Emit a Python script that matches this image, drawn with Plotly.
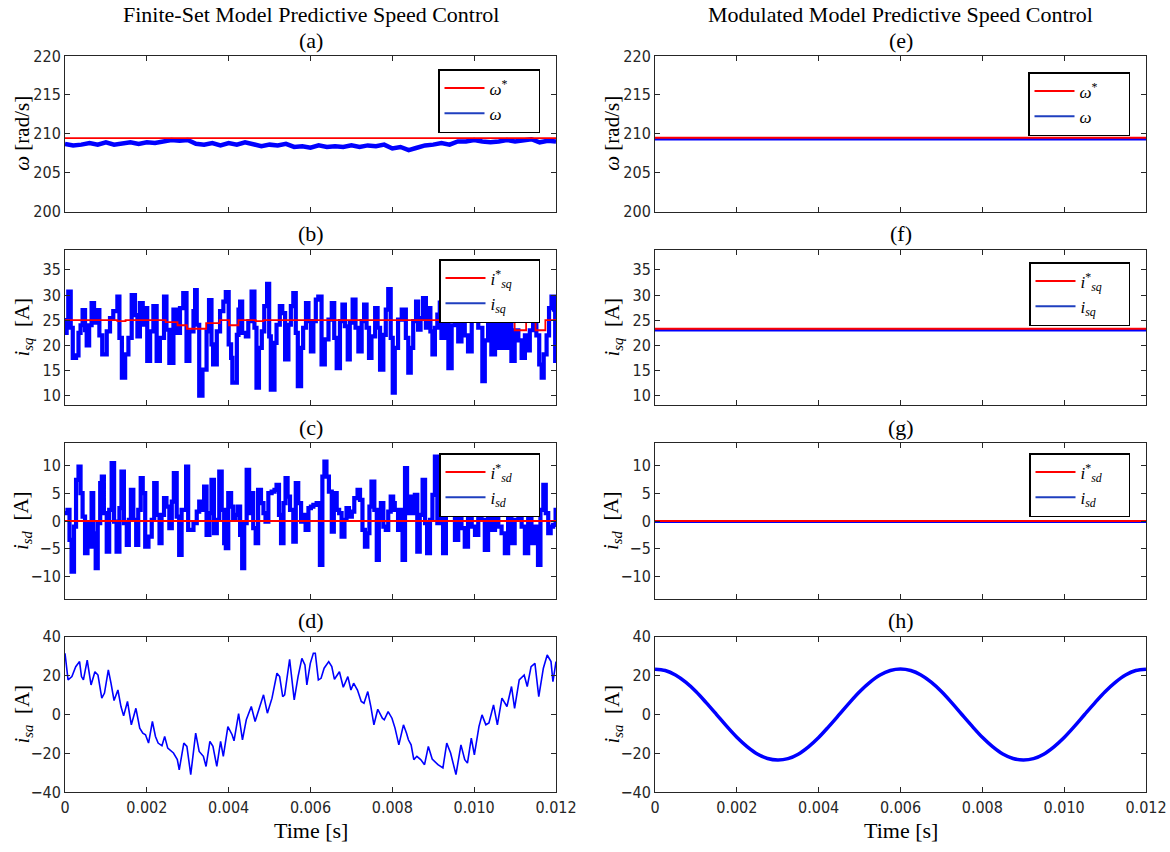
import numpy as np
import plotly.graph_objects as go

# ------------------------------------------------------------------ data
# time values are in milliseconds, converted to seconds for plotting
# (a) speed, finite-set MPC
t_w_left = [0.0, 0.2, 0.4, 0.6, 0.8, 1.0, 1.2, 1.4, 1.6, 1.8, 2.0, 2.2, 2.4, 2.6, 2.8, 3.0,
            3.2, 3.4, 3.6, 3.8, 4.0, 4.2, 4.4, 4.6, 4.8, 5.0, 5.2, 5.4, 5.6, 5.8, 6.0, 6.2,
            6.4, 6.6, 6.8, 7.0, 7.2, 7.4, 7.6, 7.8, 8.0, 8.2, 8.4, 8.6, 8.8, 9.0, 9.2, 9.4,
            9.6, 9.8, 10.0, 10.2, 10.4, 10.6, 10.8, 11.0, 11.2, 11.4, 11.6, 11.8, 12.0]
w_left = [208.7, 208.5, 208.6, 208.8, 208.6, 208.9, 208.6, 208.8, 208.9, 208.7, 208.9, 208.8,
          209.0, 209.2, 209.1, 209.2, 208.7, 208.6, 208.8, 208.5, 208.8, 208.6, 208.9, 208.7,
          208.4, 208.6, 208.5, 208.7, 208.3, 208.4, 208.2, 208.5, 208.3, 208.4, 208.3, 208.5,
          208.3, 208.5, 208.4, 208.6, 208.1, 208.3, 207.9, 208.2, 208.5, 208.6, 208.8, 208.6,
          209.0, 209.0, 209.2, 209.0, 208.9, 209.0, 209.2, 209.0, 209.1, 209.3, 208.9, 209.1,
          209.0]
w_ref_left = 209.45

# (b) q-axis current, finite-set MPC
t_isq_left = [0.00, 0.04, 0.08, 0.14, 0.19, 0.27, 0.33, 0.38, 0.43, 0.49, 0.53, 0.59, 0.65, 0.71,
              0.77, 0.84, 0.91, 1.02, 1.10, 1.18, 1.28, 1.33, 1.39, 1.47, 1.55, 1.63, 1.71, 1.77,
              1.83, 1.90, 1.96, 2.01, 2.08, 2.16, 2.24, 2.32, 2.42, 2.48, 2.55, 2.65, 2.73, 2.81,
              2.89, 2.97, 3.04, 3.14, 3.18, 3.22, 3.28, 3.36, 3.46, 3.52, 3.58, 3.62, 3.71, 3.79,
              3.87, 3.93, 4.00, 4.06, 4.09, 4.20, 4.24, 4.28, 4.33, 4.42, 4.48, 4.56, 4.63, 4.68,
              4.74, 4.81, 4.87, 4.94, 4.99, 5.03, 5.12, 5.17, 5.25, 5.31, 5.38, 5.46, 5.52, 5.58,
              5.64, 5.69, 5.77, 5.82, 5.89, 5.95, 6.01, 6.07, 6.13, 6.19, 6.27, 6.35, 6.44, 6.52,
              6.58, 6.64, 6.72, 6.78, 6.84, 6.91, 6.96, 7.03, 7.10, 7.17, 7.25, 7.31, 7.37, 7.43,
              7.49, 7.58, 7.64, 7.70, 7.78, 7.84, 7.90, 7.96, 8.01, 8.06, 8.14, 8.23, 8.33, 8.39,
              8.45, 8.51, 8.58, 8.63, 8.69, 8.75, 8.82, 8.88, 8.93, 8.98, 9.04, 9.10, 9.16, 9.20,
              9.28, 9.37, 9.45, 9.53, 9.61, 9.69, 9.77, 9.85, 9.94, 10.02, 10.10, 10.20, 10.26,
              10.34, 10.42, 10.51, 10.59, 10.67, 10.75, 10.83, 10.91, 10.99, 11.08, 11.16, 11.24,
              11.30, 11.36, 11.44, 11.52, 11.59, 11.65, 11.70, 11.77, 11.83, 11.89, 11.95, 11.98,
              12.00]
isq_left = [22.5, 25.0, 30.7, 23.5, 17.5, 18.0, 22.5, 24.0, 27.0, 23.0, 20.0, 24.0, 28.4, 24.5,
            27.0, 22.0, 18.2, 22.8, 25.4, 26.8, 29.7, 21.5, 13.6, 18.2, 21.5, 30.0, 26.0, 21.8,
            28.4, 24.1, 27.4, 16.9, 22.8, 27.8, 16.9, 21.5, 29.7, 23.1, 16.5, 27.1, 22.5, 27.4,
            30.4, 16.9, 22.8, 26.8, 31.0, 24.1, 10.0, 15.2, 22.8, 29.0, 20.2, 16.2, 22.8, 26.8,
            28.7, 30.6, 20.2, 17.5, 12.6, 22.1, 27.1, 28.7, 22.5, 21.8, 24.8, 30.7, 23.5, 11.6,
            19.5, 22.8, 27.8, 32.2, 21.8, 11.2, 20.5, 24.1, 27.8, 26.4, 17.2, 24.1, 27.8, 30.4,
            22.5, 11.9, 19.5, 23.5, 28.4, 24.8, 18.8, 24.8, 29.1, 29.7, 16.2, 21.2, 25.1, 28.4,
            21.5, 15.5, 24.8, 28.1, 23.8, 17.2, 24.5, 29.1, 23.5, 18.8, 24.8, 28.1, 23.5, 17.5,
            21.8, 27.4, 23.5, 15.2, 22.1, 27.1, 31.2, 21.5, 10.6, 19.5, 25.1, 27.1, 21.5, 14.6,
            19.5, 24.8, 28.7, 23.1, 25.4, 29.4, 23.5, 27.4, 22.8, 18.2, 23.5, 26.1, 28.5, 21.5,
            27.0, 15.5, 24.0, 28.0, 20.8, 27.0, 22.0, 18.8, 26.0, 28.0, 23.5, 12.9, 21.0, 27.0,
            18.2, 25.0, 19.5, 27.0, 19.5, 26.0, 16.9, 23.0, 21.0, 17.5, 22.0, 19.0, 23.0, 27.0,
            22.0, 16.2, 13.6, 18.2, 22.0, 27.4, 29.7, 27.1, 16.9, 21.0]
t_isq_ref_left = [0.0, 1.28, 1.48, 2.46, 2.75, 2.98, 3.45, 3.78, 4.01, 4.24, 4.66, 4.85, 10.47,
                  10.99, 11.27, 11.50, 11.74, 12.0]
isq_ref_left = [25.0, 24.8, 25.0, 24.6, 24.0, 23.3, 24.4, 25.0, 24.0, 25.0, 24.8, 25.0, 24.8,
                23.0, 25.0, 23.0, 25.0, 25.0]

# (c) d-axis current, finite-set MPC
t_isd_left = [0.00, 0.06, 0.11, 0.16, 0.22, 0.27, 0.33, 0.38, 0.43, 0.49, 0.55, 0.59, 0.65, 0.69,
              0.75, 0.80, 0.86, 0.90, 0.95, 1.02, 1.08, 1.14, 1.20, 1.26, 1.33, 1.38, 1.44, 1.51,
              1.56, 1.61, 1.67, 1.74, 1.79, 1.85, 1.90, 1.96, 2.04, 2.12, 2.18, 2.24, 2.31, 2.36,
              2.42, 2.48, 2.55, 2.61, 2.66, 2.73, 2.79, 2.85, 2.96, 3.01, 3.07, 3.14, 3.22, 3.28,
              3.34, 3.40, 3.46, 3.53, 3.58, 3.64, 3.71, 3.77, 3.83, 3.89, 3.93, 3.99, 4.06, 4.11,
              4.17, 4.22, 4.28, 4.33, 4.38, 4.44, 4.50, 4.55, 4.60, 4.66, 4.72, 4.79, 4.85, 4.90,
              4.97, 5.05, 5.12, 5.17, 5.23, 5.28, 5.34, 5.39, 5.44, 5.50, 5.58, 5.64, 5.70, 5.77,
              5.82, 5.88, 5.95, 6.01, 6.07, 6.15, 6.23, 6.29, 6.34, 6.39, 6.45, 6.52, 6.57, 6.64,
              6.70, 6.76, 6.83, 6.88, 6.94, 7.01, 7.07, 7.15, 7.21, 7.27, 7.33, 7.39, 7.44, 7.49,
              7.56, 7.62, 7.67, 7.72, 7.78, 7.84, 7.90, 7.96, 8.02, 8.06, 8.14, 8.20, 8.25, 8.31,
              8.36, 8.43, 8.49, 8.55, 8.61, 8.67, 8.74, 8.80, 8.85, 8.92, 8.98, 9.04, 9.10, 9.16,
              9.24, 9.31, 9.37, 9.45, 9.53, 9.61, 9.69, 9.77, 9.85, 9.94, 10.02, 10.10, 10.18,
              10.26, 10.34, 10.42, 10.51, 10.59, 10.67, 10.75, 10.83, 10.91, 10.99, 11.08, 11.16,
              11.24, 11.32, 11.40, 11.48, 11.56, 11.62, 11.69, 11.75, 11.81, 11.87, 11.93, 11.99,
              12.00]
isd_left = [1.4, 2.0, -3.4, -9.1, -1.0, 7.4, 9.8, 5.0, 0.8, -5.8, -0.4, -4.6, 5.0, -2.2, -8.5,
            -0.4, 6.8, 8.0, 1.4, -5.5, 2.0, 10.4, -0.1, -5.5, 2.3, 8.9, -0.4, -4.3, 0.2, 5.6, 0.2,
            -4.3, 2.0, 7.7, 5.0, -4.6, -2.8, 0.2, 6.8, 1.1, -4.0, 1.1, 4.1, 2.6, -1.3, 3.5, 8.6,
            0.8, -6.1, 2.0, 9.8, -1.6, -1.6, -0.4, 1.7, 3.5, 2.0, 6.2, -2.5, 1.4, 7.4, -2.2, 0.2,
            8.9, 2.0, -4.0, -4.9, 5.0, 2.6, 0.2, 1.1, 2.6, -2.5, -8.5, -0.4, 9.2, 1.4, 5.0, -1.3,
            -4.0, 5.6, 3.2, 1.4, -0.1, 5.0, 5.3, 5.6, 6.5, 1.1, -4.0, 3.2, 7.7, 4.4, 2.0, -3.7,
            6.8, 3.2, -0.1, 1.1, -1.6, 2.3, 2.6, 2.9, 3.2, -7.9, 8.0, 10.7, 8.0, 5.3, -1.9, 5.0,
            2.0, 1.4, -2.8, 0.2, 2.3, 0.8, 1.7, 4.1, 5.6, 3.8, -1.6, -4.6, -2.2, 2.6, 7.1, 2.0,
            -7.0, 0.5, 3.2, -1.0, -1.6, 1.7, 4.4, 3.2, 2.0, -1.6, 2.0, -7.0, 9.5, 1.4, 4.4, 1.4,
            4.7, -5.5, 1.1, 7.4, -0.4, -5.8, 0.2, 4.7, 11.6, -0.4, 6.0, -5.8, 11.6, 1.4, 7.0, -3.4,
            6.0, -1.3, -4.6, 5.0, -1.0, -2.5, 6.0, 0.2, -5.2, 7.0, -1.6, 5.0, -1.0, -2.2, -5.8,
            6.0, -4.0, 0.2, 11.6, -1.0, -5.8, 5.0, -4.0, -1.0, -7.9, 2.0, 6.5, 1.4, -2.2, -1.0,
            -0.7, 2.0, 2.0]
isd_ref_left = 0.0

# (d) phase-a current, finite-set MPC
t_isa_left = [0.000, 0.075, 0.169, 0.262, 0.356, 0.403, 0.450, 0.543, 0.637, 0.731, 0.806, 0.899,
              0.965, 1.059, 1.124, 1.199, 1.293, 1.368, 1.433, 1.527, 1.621, 1.733, 1.827, 1.902,
              1.967, 2.042, 2.136, 2.211, 2.276, 2.370, 2.436, 2.511, 2.651, 2.745, 2.792, 2.904,
              2.979, 3.073, 3.194, 3.279, 3.382, 3.447, 3.541, 3.616, 3.710, 3.803, 3.869, 3.981,
              4.084, 4.131, 4.243, 4.337, 4.431, 4.553, 4.646, 4.759, 4.852, 4.946, 5.059, 5.180,
              5.246, 5.321, 5.368, 5.490, 5.602, 5.696, 5.789, 5.864, 5.911, 5.995, 6.070, 6.117,
              6.192, 6.258, 6.333, 6.445, 6.520, 6.585, 6.707, 6.801, 6.913, 6.988, 7.054, 7.148,
              7.241, 7.307, 7.400, 7.475, 7.550, 7.644, 7.756, 7.803, 7.897, 7.991, 8.066, 8.159,
              8.272, 8.347, 8.393, 8.459, 8.525, 8.600, 8.693, 8.787, 8.880, 8.974, 9.115, 9.236,
              9.330, 9.424, 9.555, 9.677, 9.770, 9.836, 9.930, 10.005, 10.117, 10.192, 10.286,
              10.361, 10.473, 10.567, 10.679, 10.801, 10.913, 10.988, 11.101, 11.222, 11.297,
              11.391, 11.485, 11.579, 11.691, 11.785, 11.878, 11.925, 12.000]
isa_left = [31.5, 17.8, 19.5, 24.6, 27.2, 19.5, 17.8, 28.0, 15.2, 22.0, 20.3, 8.4, 11.0, 22.9,
            16.1, 7.2, 12.6, 4.1, -0.7, 6.7, -5.3, 3.2, -7.0, -9.6, -10.4, -14.7, -3.6, -11.3,
            -14.7, -16.1, -11.3, -17.3, -19.8, -23.2, -28.4, -14.7, -16.4, -30.9, -9.6, -19.0,
            -21.5, -26.7, -13.8, -16.4, -26.7, -13.8, -21.5, -6.2, -10.4, -13.5, 0.5, -13.0, -2.7,
            4.1, -3.6, 4.1, 10.1, 0.7, 8.4, 21.2, 19.5, 9.2, 10.1, 28.4, 7.5, 19.5, 28.9, 25.5,
            15.2, 26.3, 31.5, 31.5, 17.8, 18.6, 23.8, 27.2, 24.6, 18.1, 22.0, 14.0, 19.5, 12.6,
            16.1, 12.6, 6.7, 5.8, 11.8, 4.1, -5.3, 2.7, -1.9, -2.7, 1.5, -1.9, -7.0, -15.6, -5.3,
            -9.6, -13.0, -15.6, -23.2, -21.5, -23.2, -25.8, -16.4, -22.9, -25.8, -27.5, -14.7,
            -19.8, -30.9, -15.6, -23.2, -25.0, -12.1, -20.7, -6.2, -0.2, -5.3, -4.4, 4.9, -5.3,
            8.4, 4.1, 14.4, 3.2, 17.8, 20.3, 14.4, 24.6, 26.3, 9.2, 23.8, 30.6, 27.2, 16.9, 27.2]

# right column: modulated MPC
t_flat = [0.0, 12.0]
w_ref_right = 209.5
w_right = 209.3
isq_ref_right = 23.3
isq_right = 23.0
isd_ref_right = 0.0
isd_right = -0.15
t_isa_right = [0.0, 0.25, 0.5, 0.75, 1.0, 1.25, 1.5, 1.75, 2.0, 2.25, 2.5, 2.75, 3.0, 3.25, 3.5,
               3.75, 4.0, 4.25, 4.5, 4.75, 5.0, 5.25, 5.5, 5.75, 6.0, 6.25, 6.5, 6.75, 7.0, 7.25,
               7.5, 7.75, 8.0, 8.25, 8.5, 8.75, 9.0, 9.25, 9.5, 9.75, 10.0, 10.25, 10.5, 10.75,
               11.0, 11.25, 11.5, 11.75, 12.0]
isa_right = [23.3, 22.6, 20.3, 16.6, 11.8, 6.1, 0.1, -6.0, -11.7, -16.5, -20.3, -22.6, -23.4,
             -22.7, -20.4, -16.6, -11.8, -6.1, -0.1, 6.0, 11.7, 16.5, 20.3, 22.6, 23.4, 22.6, 20.3,
             16.6, 11.8, 6.1, 0.0, -6.0, -11.7, -16.5, -20.3, -22.6, -23.4, -22.7, -20.4, -16.6,
             -11.8, -6.1, 0.0, 6.0, 11.7, 16.5, 20.3, 22.6, 23.3]

x_ticks = [0, 0.002, 0.004, 0.006, 0.008, 0.010, 0.012]
x_ticktext = ["0", "0.002", "0.004", "0.006", "0.008", "0.010", "0.012"]
y_ticks_w = [200, 205, 210, 215, 220]
y_ticks_isq = [10, 15, 20, 25, 30, 35]
y_ticks_isd = [-10, -5, 0, 5, 10]
y_ticks_isa = [-40, -20, 0, 20, 40]

# ------------------------------------------------------------------ style
RED = "#ff0000"
BLUE = "#0000ff"
AX = "#262626"
SERIF = "Liberation Serif, Times New Roman, serif"
SANS = "Liberation Sans Narrow, DejaVu Sans Condensed, Arial Narrow, sans-serif"
W, H = 1170, 852
NB = "&nbsp;"


def s(t_ms):
    return np.asarray(t_ms, dtype=float) / 1000.0


def py(px_from_top):
    return 1 - px_from_top / H


def pxx(px):
    return px / W


x_left = [pxx(65), pxx(556)]
x_right = [pxx(655), pxx(1146)]
rows_px = [(56, 211.5), (249.7, 405.3), (443.2, 598.8), (636.7, 792.3)]
y_doms = [[py(b), py(t)] for (t, b) in rows_px]
y_ranges = [[200, 220], [8.1, 39], [-14, 14], [-40, 40]]
y_tick_sets = [y_ticks_w, y_ticks_isq, y_ticks_isd, y_ticks_isa]

fig = go.Figure()
layout = dict(width=W, height=H, margin=dict(l=0, r=0, t=0, b=0, autoexpand=False),
              paper_bgcolor="white", plot_bgcolor="white", showlegend=True)

for col in range(2):
    for row in range(4):
        k = col * 4 + row + 1
        xname = "xaxis" if k == 1 else f"xaxis{k}"
        yname = "yaxis" if k == 1 else f"yaxis{k}"
        bottom = row == 3
        layout[xname] = dict(domain=x_left if col == 0 else x_right, anchor=f"y{k}" if k > 1 else "y",
                             range=[0, 0.012], tickvals=x_ticks, ticktext=x_ticktext,
                             showticklabels=bottom, ticks="inside", ticklen=5, tickcolor=AX,
                             showline=True, linecolor=AX, linewidth=1, mirror="ticks",
                             showgrid=False, zeroline=False, automargin=False,
                             tickfont=dict(family=SANS, size=16, color=AX))
        layout[yname] = dict(domain=y_doms[row], anchor=f"x{k}" if k > 1 else "x",
                             range=y_ranges[row], tickvals=y_tick_sets[row],
                             ticks="inside", ticklen=5, tickcolor=AX,
                             showline=True, linecolor=AX, linewidth=1, mirror="ticks",
                             showgrid=False, zeroline=False, automargin=False,
                             tickfont=dict(family=SANS, size=16, color=AX))


def ax(k):
    return ("x" if k == 1 else f"x{k}"), ("y" if k == 1 else f"y{k}")


def add(k, x, y, color, width, shape="linear"):
    xa, ya = ax(k)
    fig.add_trace(go.Scatter(x=x, y=y, mode="lines", xaxis=xa, yaxis=ya, showlegend=False,
                             line=dict(color=color, width=width, shape=shape), hoverinfo="skip"))


def add_legend(k, legend_name, names):
    xa, ya = ax(k)
    for name, color in zip(names, [RED, "#1f3fbf"]):
        fig.add_trace(go.Scatter(x=[None], y=[None], mode="lines", xaxis=xa, yaxis=ya,
                                 name=name, legend=legend_name,
                                 line=dict(color=color, width=2)))


# left column
add(1, s(t_w_left), w_left, BLUE, 4.5)
add(1, s(t_flat), [w_ref_left] * len(t_flat), RED, 1.8)
add(2, s(t_isq_left), isq_left, BLUE, 4.2, "hv")
add(2, s(t_isq_ref_left), isq_ref_left, RED, 1.8, "hv")
add(3, s(t_isd_left), isd_left, BLUE, 4.2, "hv")
add(3, s(t_flat), [isd_ref_left] * len(t_flat), RED, 1.8)
add(4, s(t_isa_left), isa_left, BLUE, 1.6)
# right column
add(5, s(t_flat), [w_right] * len(t_flat), BLUE, 2.5)
add(5, s(t_flat), [w_ref_right] * len(t_flat), RED, 2.0)
add(6, s(t_flat), [isq_right] * len(t_flat), BLUE, 2.5)
add(6, s(t_flat), [isq_ref_right] * len(t_flat), RED, 2.0)
add(7, s(t_flat), [isd_right] * len(t_flat), BLUE, 2.5)
add(7, s(t_flat), [isd_ref_right] * len(t_flat), RED, 2.0)
add(8, s(t_isa_right), isa_right, BLUE, 3.5, "spline")

w_names = ["<i>ω</i><sup>*</sup>" + NB * 6, "<i>ω</i>" + NB * 6]
isq_names = ["<i>i</i><sup>*</sup><sub><i>sq</i></sub>" + NB * 5, "<i>i<sub>sq</sub></i>" + NB * 5]
isd_names = ["<i>i</i><sup>*</sup><sub><i>sd</i></sub>" + NB * 5, "<i>i<sub>sd</sub></i>" + NB * 5]

legend_specs = [(1, "legend", w_names, 540, 69), (2, "legend2", isq_names, 540, 259),
                (3, "legend3", isd_names, 540, 453), (5, "legend4", w_names, 1130, 72),
                (6, "legend5", isq_names, 1130, 262), (7, "legend6", isd_names, 1130, 453)]
for k, lname, names, rx, ty in legend_specs:
    add_legend(k, lname, names)
    layout[lname] = dict(x=pxx(rx), y=py(ty), xanchor="right", yanchor="top",
                         bgcolor="white", bordercolor="black", borderwidth=1.5,
                         font=dict(family=SERIF, size=17, color="black"),
                         itemwidth=40, tracegroupgap=0)

annotations = []


def text(x, y, t, size=22, angle=0):
    annotations.append(dict(x=x, y=y, xref="paper", yref="paper", text=t, showarrow=False,
                            textangle=angle, xanchor="center", yanchor="middle",
                            font=dict(family=SERIF, size=size, color="black")))


cx_left = pxx(310.5)
cx_right = pxx(900.5)
text(cx_left, py(15), "Finite-Set Model Predictive Speed Control")
text(cx_right, py(15), "Modulated Model Predictive Speed Control")
for i, (lab_l, lab_r) in enumerate(zip(["(a)", "(b)", "(c)", "(d)"], ["(e)", "(f)", "(g)", "(h)"])):
    ypx = rows_px[i][0] - 16
    text(cx_left, py(ypx), lab_l)
    text(cx_right, py(ypx), lab_r)
text(cx_left, py(830), "Time [s]")
text(cx_right, py(830), "Time [s]")

ylabels = ["<i>ω</i> [rad/s]", "<i>i<sub>sq</sub></i>  [A]", "<i>i<sub>sd</sub></i>  [A]",
           "<i>i<sub>sa</sub></i>  [A]"]
for i, lab in enumerate(ylabels):
    yc = py((rows_px[i][0] + rows_px[i][1]) / 2)
    text(pxx(22), yc, lab, size=21, angle=-90)
    text(pxx(612), yc, lab, size=21, angle=-90)

layout["annotations"] = annotations
fig.update_layout(**layout)
fig.write_html("out.html", config={"displayModeBar": False},
               post_script="document.body.style.margin='0';document.body.style.padding='0';")
